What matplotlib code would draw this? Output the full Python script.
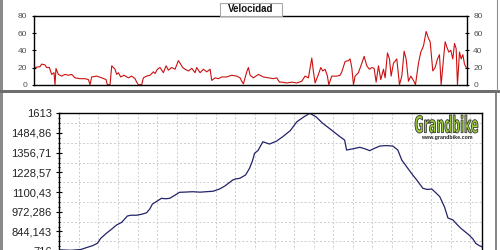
import numpy as np
import matplotlib
matplotlib.use('Agg')
import matplotlib.pyplot as plt
from matplotlib.patches import Rectangle, PathPatch
from matplotlib.lines import Line2D
from matplotlib.textpath import TextPath
from matplotlib.font_manager import FontProperties
from matplotlib.transforms import Affine2D

plt.rcParams['font.family'] = ['Liberation Sans', 'DejaVu Sans']

# speed profile (km, km/h)
vel_km = [0.0, 0.21, 1.62, 2.04, 2.87, 3.28, 3.95, 4.53, 5.11, 5.36, 5.61, 6.19, 7.03, 7.86,
          8.69, 9.52, 10.35, 11.6, 12.84, 13.68, 14.09, 14.51, 15.75, 17.0, 18.08, 18.41,
          19.08, 19.5, 20.33, 20.74, 21.16, 21.74, 22.57, 23.65, 24.48, 25.31, 25.73, 26.14,
          26.98, 27.39, 28.22, 29.06, 29.89, 30.3, 30.88, 31.55, 32.38, 33.05, 33.63, 34.46,
          35.29, 36.12, 36.54, 37.2, 37.78, 38.62, 39.45, 40.28, 40.69, 41.53, 42.36, 43.19,
          44.02, 44.44, 45.27, 46.1, 46.93, 48.18, 49.42, 50.67, 51.5, 51.92, 52.33, 53.16,
          53.58, 54.0, 54.83, 56.07, 57.32, 58.57, 59.81, 60.65, 61.31, 61.89, 63.14, 64.39,
          65.63, 66.88, 67.71, 68.54, 69.38, 69.79, 70.21, 71.04, 71.62, 72.12, 72.7, 73.28,
          73.61, 74.36, 75.61, 76.44, 76.86, 77.69, 78.52, 78.93, 79.35, 79.77, 80.18, 81.01,
          81.85, 82.43, 83.09, 83.76, 84.34, 84.92, 85.42, 86.0, 86.58, 87.25, 87.66, 88.25,
          88.74, 89.16, 89.74, 90.57, 91.24, 91.82, 92.4, 92.9, 93.48, 94.07, 94.73, 95.23,
          95.98, 96.56, 97.22, 97.89, 98.47, 98.89, 99.55, 100.13, 100.72, 101.21, 101.63,
          102.21, 102.63, 103.04, 103.54, 104.04, 104.54, 104.96, 105.37, 105.7, 106.2,
          106.62, 107.04, 107.45, 107.87]
vel = [0, 20, 21, 24, 23, 20, 20, 12, 14, 0, 19, 12, 10, 12,
       11, 12, 8, 7, 7, 6, 0, 9, 10, 8, 6, 0,
       0, 22, 18, 12, 14, 9, 11, 8, 10, 7, 3, 0,
       0, 8, 10, 11, 15, 13, 18, 20, 14, 22, 17, 20,
       18, 28, 25, 20, 18, 16, 19, 14, 20, 14, 18, 15,
       18, 5, 8, 7, 9, 9, 11, 10, 8, 4, 1, 15,
       20, 11, 8, 12, 9, 8, 7, 8, 3, 3, 2, 3,
       2, 4, 10, 8, 31, 15, 2, 12, 20, 16, 18, 10,
       0, 10, 10, 11, 15, 27, 28, 30, 20, 0, 10, 14,
       25, 33, 22, 18, 20, 19, 3, 22, 6, 18, 8, 37,
       30, 10, 25, 30, 0, 10, 39, 30, 4, 10, 5, 0,
       25, 38, 45, 62, 54, 50, 16, 20, 30, 35, 0,
       30, 50, 44, 38, 40, 30, 48, 42, 0, 38,
       30, 35, 24, 20]

# altitude profile (km, m)
alt_km = [0.0, 3.0, 5.5, 6.9, 8.5, 9.7, 10.6, 12.0, 13.3, 14.6, 15.9, 17.4, 18.3,
          19.7, 21.0, 22.3, 23.1, 23.8, 25.0, 26.1, 27.2, 28.2, 29.4, 30.7, 32.6,
          34.0, 36.0, 37.6, 39.3, 40.9, 42.3, 44.3, 45.0, 46.1, 47.6, 48.6, 49.3,
          49.9, 50.8, 52.0, 53.7, 55.5, 57.1, 59.0, 60.7, 62.5, 64.0,
          65.6, 67.3, 69.5, 71.7, 72.9, 73.4, 75.0, 76.8, 78.2, 79.3, 80.6, 81.9,
          83.5, 85.2, 86.5, 87.5, 88.9, 90.3, 91.6, 92.9, 94.0, 95.2, 96.2, 97.2,
          98.4, 99.3, 100.6, 101.6, 102.6, 103.7, 104.7, 105.7, 106.4, 107.3, 108.0]
alt = [725, 722, 727, 739, 752, 767, 800, 832, 858, 886, 903, 945, 950,
       950, 956, 966, 990, 1023, 1042, 1060, 1057, 1060, 1078, 1099, 1101,
       1103, 1100, 1103, 1106, 1120, 1140, 1179, 1186, 1190, 1212, 1255, 1300,
       1353, 1372, 1428, 1413, 1432, 1461, 1500, 1558, 1590, 1613,
       1590, 1548, 1505, 1461, 1439, 1374, 1382, 1392, 1381, 1370, 1386, 1400,
       1403, 1400, 1374, 1309, 1260, 1212, 1170, 1125, 1118, 1120, 1096, 1071,
       1005, 932, 919, 890, 865, 842, 821, 795, 767, 752, 745]

alt_ticks = [716, 844.143, 972.286, 1100.43, 1228.57, 1356.71, 1484.86, 1613]
alt_labels = ['716', '844,143', '972,286', '1100,43', '1228,57', '1356,71', '1484,86', '1613']
vel_ticks = [0, 20, 40, 60, 80]

fig = plt.figure(figsize=(5, 2.5), dpi=100)

# frame around the two panels
fig.add_artist(Rectangle((0, 0), 2.5 / 500, 1, transform=fig.transFigure,
                         facecolor='#8a8a8a', edgecolor='none'))
fig.add_artist(Rectangle((0, 1 - 92.5 / 250), 1, 2.5 / 250, transform=fig.transFigure,
                         facecolor='#6e6e6e', edgecolor='none'))
fig.add_artist(Line2D([497 / 500, 497 / 500], [1 - 90 / 250, 1], transform=fig.transFigure,
                      color='#909090', lw=0.8))
fig.add_artist(Line2D([495.5 / 500, 495.5 / 500], [0, 1 - 92 / 250], transform=fig.transFigure,
                      color='#707070', lw=1.2))

# speed panel
ax1 = fig.add_axes([33.5 / 500, 1 - 84.7 / 250, 433.2 / 500, 68.7 / 250])
ax1.plot(vel_km, vel, '-', color='#cc1010', lw=0.8)
ax1.set_xlim(0, 108)
ax1.set_ylim(0, 80)
ax1.set_yticks(vel_ticks)
ax1.set_xticks([])
ax1.tick_params(axis='y', direction='inout', length=3.5, width=0.8, pad=3,
                labelsize=6, labelcolor='#505050', right=True, labelright=True)
for s in ax1.spines.values():
    s.set_linewidth(1.0)

# title box
fig.add_artist(Rectangle((219.5 / 500, 1 - 16 / 250), 62 / 500, 13 / 250,
                         transform=fig.transFigure, facecolor='white',
                         edgecolor='#a8a8a8', lw=0.8))
fig.text(250.5 / 500, 1 - 9.5 / 250, 'Velocidad', ha='center', va='center',
         fontsize=7, fontweight='bold', color='#111111')

# altitude panel
ax2 = fig.add_axes([59.3 / 500, 1 - 251.2 / 250, 422.7 / 500, 137.9 / 250])
ax2.plot(alt_km, alt, '-', color='#23236a', lw=0.9)
ax2.set_xlim(0, 108)
ax2.set_ylim(716, 1613)
ax2.set_yticks(alt_ticks)
ax2.set_yticklabels(alt_labels)
step = alt_ticks[1] - alt_ticks[0]
ax2.set_yticks(np.arange(716, 1613, step / 4), minor=True)
ax2.set_xticks(np.arange(5, 106, 5))
ax2.tick_params(axis='x', length=0, labelbottom=False)
ax2.tick_params(axis='y', which='major', direction='inout', length=4, width=0.8,
                pad=3.5, labelsize=8, labelcolor='#222222')
ax2.tick_params(axis='y', which='minor', direction='inout', length=2, width=0.7)
for xv in np.arange(5, 106, 5):
    ax2.axvline(xv, color='#cccccc', lw=0.7, ls=(0, (2, 2)), zorder=0)
for yv in np.arange(716 + step / 2, 1613, step):
    ax2.axhline(yv, color='#cccccc', lw=0.7, ls=(0, (2, 2)), zorder=0)
for s in ax2.spines.values():
    s.set_linewidth(1.0)

# logo: condensed green lettering fitted into its box (pixel coords, origin bottom-left)
tp = TextPath((0, 0), 'Grandbike', size=10,
              prop=FontProperties(family='DejaVu Sans', weight='bold'))
ext = tp.get_extents()
box_w, box_h = 63, 18
tr = (Affine2D().translate(-ext.x0, -ext.y0)
      .scale(box_w / ext.width, box_h / ext.height)
      .translate(415, 250 - 133))
fig.add_artist(PathPatch(tp, transform=tr, facecolor='#9ccf3c',
                         edgecolor='#3a3a3a', lw=0.6))
fig.text(447 / 500, 1 - 137.5 / 250, 'www.grandbike.com', ha='center', va='center',
         fontsize=3.8, fontweight='bold', color='#222222')

plt.savefig('out.png', dpi=100)
